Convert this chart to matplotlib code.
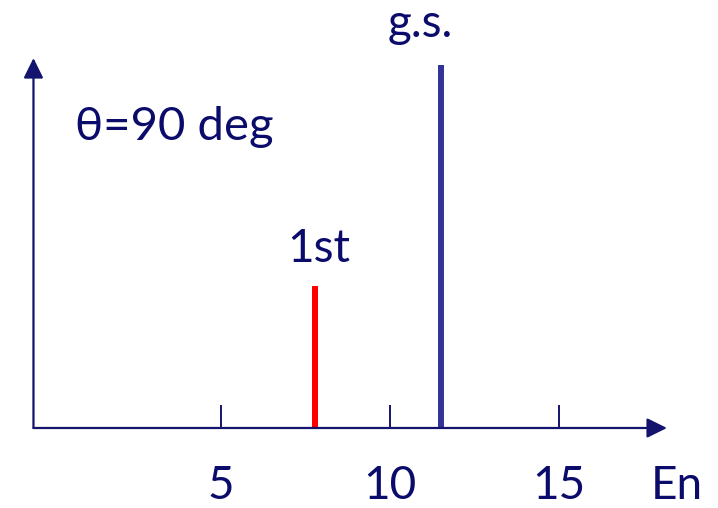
import matplotlib
matplotlib.use("Agg")
import matplotlib.pyplot as plt

# Data
states = ["1st", "g.s."]
energies = [7.79, 11.52]
intensities = [0.39, 1.0]
line_colors = ["#FF0000", "#333399"]
tick_values = [5, 10, 15]
tick_labels = ["5", "10", "15"]
x_label = "En"
angle_label = "θ=90 deg"

TEXT = "#0B0B6B"
AXC = "#14146E"

plt.rcParams['font.family'] = ['Lato', 'DejaVu Sans']

fig = plt.figure(figsize=(7.18, 5.08), dpi=100)
ax = fig.add_axes([0, 0, 1, 1])
ax.set_xlim(-1.53, 19.71)
ax.set_ylim(-0.2204, 1.179)
ax.axis("off")

x0 = -0.54
x_end = 18.2
y_end = 1.019

arrow = dict(arrowstyle="-|>,head_length=0.87,head_width=0.43", mutation_scale=14,
             lw=1.6, color=AXC, shrinkA=0, shrinkB=0)
ax.annotate("", xy=(x_end, 0), xytext=(x0, 0), arrowprops=arrow)
ax.annotate("", xy=(x0, y_end), xytext=(x0, 0), arrowprops=arrow)

ax.vlines(tick_values, 0, 0.063, color=AXC, lw=1.4)
label_base = -0.1956
for v, lab in zip(tick_values, tick_labels):
    ax.text(v, label_base, lab, ha="center", va="baseline", fontsize=33, color=TEXT)
ax.text(18.48, label_base, x_label, ha="center", va="baseline", fontsize=33, color=TEXT)

label_x = [7.91, 10.9]
label_y = [0.457, 1.077]
for lx, ly, s in zip(label_x, label_y, states):
    ax.text(lx, ly, s, ha="center", va="baseline", fontsize=33, color=TEXT)
ax.vlines(energies, 0, intensities, colors=line_colors, lw=4.3)

ax.text(0.68, 0.793, angle_label, ha="left", va="baseline", fontsize=34, color=TEXT)

fig.savefig("out.png", dpi=100)
